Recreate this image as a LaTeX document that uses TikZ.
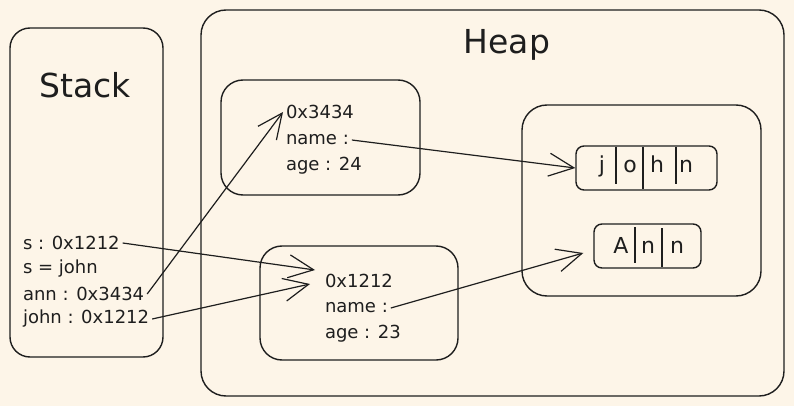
\documentclass[tikz,border=0pt]{standalone}
\usepackage{fontspec}
\setmainfont{DejaVu Sans}
\definecolor{paper}{RGB}{253,245,232}
\definecolor{ink}{RGB}{30,30,30}
\usepackage{tikz}
\usetikzlibrary{arrows.meta}

\begin{document}
\begin{tikzpicture}[x=1pt, y=-1pt,
  box/.style={draw=ink, line width=1.4pt, rounded corners=20pt, inner sep=0pt},
  cellbox/.style={draw=ink, line width=1.4pt, rounded corners=8pt, inner sep=0pt},
  txt/.style={text=ink, font=\fontsize{18}{22}\selectfont, inner sep=0pt, outer sep=3pt, anchor=west},
  title/.style={text=ink, font=\fontsize{33}{40}\selectfont},
  letter/.style={text=ink, font=\fontsize{22}{26}\selectfont, anchor=base},
  ptr/.style={draw=ink, line width=1.2pt, -{Straight Barb[length=25pt,width=23pt,line width=1.2pt]}}]
  % Background
  \useasboundingbox (0,0) rectangle (794,406);
  \fill[paper] (0,0) rectangle (794,406);
  % Stack
  \node[box, minimum width=153pt, minimum height=329pt] (stack) at (86.5,192.5) {};
  \node[title] (stacklbl) at (85,85) {Stack};
  \node[txt] (sref) at (20,243) {s : 0x1212};
  \node[txt] (seq) at (20,269) {s = john};
  \node[txt] (annref) at (20,294) {ann : 0x3434};
  \node[txt] (johnref) at (20,319) {john : 0x1212};
  % Heap
  \node[box, rounded corners=25pt, minimum width=583pt, minimum height=386pt] (heap) at (492.5,203) {};
  \node[title] (heaplbl) at (507,45) {Heap};
  % Objects
  \node[box, rounded corners=22pt, minimum width=199pt, minimum height=115pt] (obj1) at (320.5,137.5) {};
  \node[txt] (addr1) at (283,112) {0x3434};
  \node[txt] (name1) at (283,140) {name :};
  \node[txt] (age1) at (283,166) {age : 24};
  \node[box, rounded corners=22pt, minimum width=198pt, minimum height=114pt] (obj2) at (359,303) {};
  \node[txt] (addr2) at (322,281) {0x1212};
  \node[txt] (name2) at (322,308) {name :};
  \node[txt] (age2) at (322,334) {age : 23};
  % String pool
  \node[box, rounded corners=25pt, minimum width=239pt, minimum height=191pt] (pool) at (641.5,200.5) {};
  \node[cellbox, minimum width=141pt, minimum height=44pt] (johnbox) at (646.5,168) {};
  \node[letter] (jj) at (602,172) {j};
  \node[letter] (jo) at (630,172) {o};
  \node[letter] (jh) at (657,172) {h};
  \node[letter] (jn) at (686,172) {n};
  \draw[ink, line width=1.2pt] (616,147) -- (616,184);
  \draw[ink, line width=1.2pt] (643,147) -- (643,189);
  \draw[ink, line width=1.2pt] (676,147) -- (676,184);
  \node[cellbox, minimum width=107pt, minimum height=44pt] (annbox) at (647.5,246) {};
  \node[letter] (aa) at (621,253) {A};
  \node[letter] (an) at (648,253) {n};
  \node[letter] (ann) at (677,253) {n};
  \draw[ink, line width=1.2pt] (635,227) -- (635,263);
  \draw[ink, line width=1.2pt] (662,228) -- (662,267);
  % References
  \draw[ptr] (sref.east) -- ([xshift=-7pt,yshift=11pt]addr2.west);
  \draw[ptr] (johnref.east) -- ([xshift=-12pt,yshift=-3pt]addr2.west);
  \draw[ptr] (annref.east) -- (addr1.west);
  \draw[ptr] (name1.east) -- (johnbox.west);
  \draw[ptr] (name2.east) -- ([xshift=-10pt,yshift=-7pt]annbox.west);
\end{tikzpicture}
\end{document}
